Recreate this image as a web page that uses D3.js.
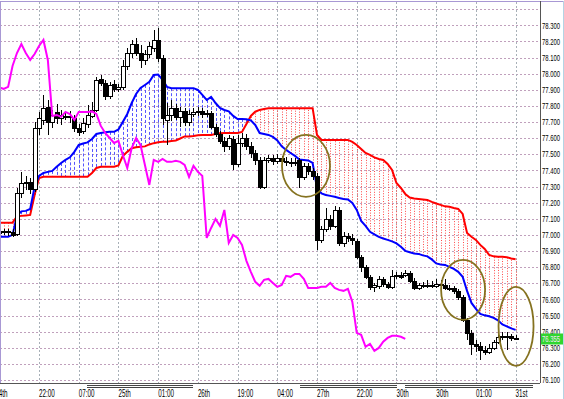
<!DOCTYPE html>
<html>
<head>
<meta charset="utf-8">
<script src="https://cdn.jsdelivr.net/npm/d3@7/dist/d3.min.js"></script>
<style>
  html, body { margin: 0; padding: 0; background: #fff; overflow: hidden; }
  text { font-family: "Liberation Sans", Arial, sans-serif; }
</style>
</head>
<body>
<svg id="chart" width="564" height="399"></svg>
<script>
// ---- data (USD/JPY hourly) ----
const opens = [
  77.012, 77.025, 77.025, 77.019, 77.006, 77.260, 77.322, 77.329, 77.285, 77.663,
  77.713, 77.794, 77.701, 77.763, 77.725, 77.738, 77.732, 77.725, 77.663, 77.645,
  77.688, 77.738, 77.775, 77.967, 77.942, 77.862, 77.936, 77.905, 77.918, 78.048,
  78.128, 78.184, 78.128, 78.085, 78.122, 78.159, 78.209, 78.097, 77.713, 77.744,
  77.787, 77.732, 77.769, 77.701, 77.750, 77.763, 77.769, 77.750, 77.756, 77.670,
  77.626, 77.583, 77.552, 77.595, 77.440, 77.570, 77.601, 77.552, 77.508, 77.465,
  77.298, 77.465, 77.477, 77.459, 77.477, 77.459, 77.453, 77.446, 77.465, 77.360,
  77.428, 77.397, 77.366, 76.969, 77.037, 77.099, 77.056, 77.155, 76.950, 76.994,
  76.981, 76.963, 76.864, 76.802, 76.740, 76.678, 76.684, 76.727, 76.696, 76.678,
  76.746, 76.752, 76.752, 76.764, 76.715, 76.671, 76.690, 76.684, 76.690, 76.684,
  76.696, 76.690, 76.671, 76.671, 76.653, 76.616, 76.473, 76.392, 76.324, 76.312,
  76.287, 76.275, 76.299, 76.337, 76.368, 76.374, 76.374, 76.361
];
const highs = [
  77.037, 77.037, 77.037, 77.037, 77.291, 77.391, 77.366, 77.353, 77.701, 77.763,
  77.868, 77.837, 77.775, 77.812, 77.775, 77.763, 77.769, 77.744, 77.688, 77.725,
  77.806, 77.825, 77.980, 77.992, 77.961, 77.949, 77.961, 77.936, 78.085, 78.159,
  78.209, 78.221, 78.178, 78.147, 78.197, 78.271, 78.283, 78.116, 77.818, 77.837,
  77.812, 77.794, 77.787, 77.775, 77.787, 77.794, 77.787, 77.775, 77.769, 77.688,
  77.645, 77.608, 77.620, 77.614, 77.620, 77.632, 77.626, 77.577, 77.527, 77.484,
  77.484, 77.496, 77.496, 77.502, 77.490, 77.484, 77.477, 77.477, 77.477, 77.446,
  77.446, 77.415, 77.384, 77.056, 77.167, 77.124, 77.180, 77.174, 77.019, 77.012,
  77.006, 76.975, 76.876, 76.814, 76.752, 76.702, 76.746, 76.740, 76.709, 76.783,
  76.771, 76.771, 76.783, 76.777, 76.733, 76.702, 76.709, 76.721, 76.715, 76.727,
  76.721, 76.727, 76.690, 76.684, 76.665, 76.628, 76.485, 76.411, 76.349, 76.337,
  76.312, 76.324, 76.349, 76.386, 76.399, 76.399, 76.386, 76.380
];
const lows = [
  76.994, 77.000, 76.994, 76.988, 76.994, 77.229, 77.279, 77.254, 77.267, 77.620,
  77.682, 77.620, 77.663, 77.688, 77.682, 77.713, 77.694, 77.639, 77.614, 77.626,
  77.663, 77.725, 77.763, 77.924, 77.837, 77.843, 77.887, 77.887, 77.899, 78.023,
  78.097, 78.110, 78.035, 78.054, 78.097, 78.135, 78.073, 77.682, 77.558, 77.707,
  77.713, 77.670, 77.676, 77.676, 77.732, 77.738, 77.725, 77.732, 77.657, 77.608,
  77.564, 77.515, 77.527, 77.403, 77.422, 77.546, 77.527, 77.477, 77.434, 77.285,
  77.285, 77.446, 77.434, 77.440, 77.434, 77.428, 77.422, 77.428, 77.291, 77.341,
  77.372, 77.341, 76.907, 76.950, 77.019, 77.031, 77.043, 76.932, 76.926, 76.957,
  76.938, 76.851, 76.771, 76.727, 76.659, 76.647, 76.665, 76.678, 76.665, 76.665,
  76.727, 76.727, 76.740, 76.702, 76.659, 76.659, 76.671, 76.671, 76.671, 76.671,
  76.678, 76.659, 76.653, 76.634, 76.597, 76.461, 76.349, 76.256, 76.275, 76.225,
  76.256, 76.262, 76.287, 76.324, 76.349, 76.287, 76.343, 76.349
];
const closes = [
  77.025, 77.019, 77.019, 77.000, 77.260, 77.322, 77.329, 77.285, 77.663, 77.725,
  77.787, 77.701, 77.744, 77.725, 77.744, 77.732, 77.738, 77.663, 77.639, 77.694,
  77.744, 77.775, 77.961, 77.942, 77.862, 77.930, 77.905, 77.918, 78.048, 78.128,
  78.184, 78.128, 78.085, 78.122, 78.172, 78.209, 78.097, 77.725, 77.744, 77.787,
  77.732, 77.769, 77.701, 77.750, 77.763, 77.769, 77.750, 77.756, 77.670, 77.626,
  77.583, 77.552, 77.601, 77.440, 77.570, 77.601, 77.552, 77.508, 77.465, 77.298,
  77.465, 77.477, 77.459, 77.477, 77.459, 77.453, 77.446, 77.453, 77.360, 77.428,
  77.397, 77.366, 76.969, 77.037, 77.099, 77.056, 77.155, 76.950, 76.994, 76.981,
  76.969, 76.864, 76.802, 76.740, 76.678, 76.690, 76.727, 76.696, 76.678, 76.746,
  76.752, 76.740, 76.764, 76.715, 76.671, 76.690, 76.684, 76.690, 76.684, 76.696,
  76.690, 76.671, 76.665, 76.653, 76.616, 76.473, 76.392, 76.324, 76.312, 76.287,
  76.275, 76.299, 76.337, 76.368, 76.374, 76.374, 76.361, 76.355
];
// lagging span (drawn from bar 0, ends 25 bars before the last candle)
const chikou = [
  77.915, 77.905, 77.918, 78.048, 78.128, 78.184, 78.128, 78.085, 78.122, 78.172,
  78.209, 78.085, 77.738, 77.744, 77.732, 77.763, 77.750, 77.713, 77.763, 77.763,
  77.763, 77.766, 77.750, 77.676, 77.632, 77.601, 77.570, 77.583, 77.496, 77.415,
  77.539, 77.601, 77.558, 77.434, 77.310, 77.465, 77.453, 77.471, 77.453, 77.453,
  77.459, 77.453, 77.434, 77.360, 77.428, 77.391, 77.366, 76.981, 77.043, 77.099,
  77.056, 77.155, 76.950, 77.000, 76.981, 76.938, 76.839, 76.771, 76.709, 76.684,
  76.721, 76.727, 76.702, 76.678, 76.690, 76.746, 76.740, 76.758, 76.758, 76.727,
  76.671, 76.671, 76.671, 76.678, 76.678, 76.702, 76.671, 76.659, 76.653, 76.665,
  76.585, 76.392, 76.380, 76.306, 76.324, 76.281, 76.299, 76.337, 76.361, 76.374,
  76.374, 76.368, 76.355
];
// cloud boundaries
const spanBlue = [
  76.988, 76.988, 76.988, 77.000, 77.118, 77.146, 77.149, 77.161, 77.298, 77.366,
  77.384, 77.391, 77.397, 77.422, 77.446, 77.465, 77.481, 77.515, 77.558, 77.567,
  77.574, 77.595, 77.626, 77.632, 77.636, 77.639, 77.639, 77.654, 77.701, 77.750,
  77.818, 77.874, 77.911, 77.930, 77.949, 77.992, 77.995, 77.961, 77.918, 77.910,
  77.910, 77.910, 77.910, 77.910, 77.910, 77.899, 77.868, 77.837, 77.856, 77.818,
  77.787, 77.775, 77.766, 77.738, 77.719, 77.719, 77.717, 77.710, 77.682, 77.632,
  77.626, 77.620, 77.608, 77.586, 77.549, 77.527, 77.508, 77.490, 77.468, 77.465,
  77.462, 77.446, 77.291, 77.257, 77.248, 77.242, 77.236, 77.229, 77.223, 77.220,
  77.198, 77.155, 77.087, 77.056, 77.019, 77.003, 76.988, 76.978, 76.969, 76.960,
  76.947, 76.926, 76.901, 76.892, 76.885, 76.882, 76.873, 76.867, 76.848, 76.823,
  76.817, 76.814, 76.802, 76.789, 76.771, 76.740, 76.653, 76.578, 76.541, 76.510,
  76.501, 76.495, 76.485, 76.470, 76.445, 76.433, 76.420, 76.411
];
const spanRed = [
  77.076, 77.076, 77.076, 77.076, 77.115, 77.118, 77.121, 77.124, 77.248, 77.353,
  77.361, 77.361, 77.361, 77.361, 77.361, 77.361, 77.361, 77.361, 77.361, 77.361,
  77.361, 77.384, 77.415, 77.423, 77.423, 77.423, 77.423, 77.431, 77.490, 77.515,
  77.538, 77.543, 77.546, 77.549, 77.561, 77.569, 77.574, 77.577, 77.578, 77.583,
  77.586, 77.598, 77.611, 77.611, 77.614, 77.618, 77.620, 77.620, 77.620, 77.626,
  77.631, 77.632, 77.632, 77.632, 77.632, 77.639, 77.688, 77.738, 77.764, 77.775,
  77.781, 77.786, 77.786, 77.786, 77.786, 77.786, 77.786, 77.786, 77.786, 77.786,
  77.786, 77.786, 77.620, 77.589, 77.589, 77.589, 77.589, 77.589, 77.589, 77.589,
  77.577, 77.558, 77.533, 77.508, 77.496, 77.481, 77.471, 77.465, 77.440, 77.403,
  77.322, 77.291, 77.254, 77.232, 77.226, 77.223, 77.220, 77.217, 77.205, 77.195,
  77.186, 77.177, 77.174, 77.167, 77.161, 77.130, 77.012, 76.988, 76.969, 76.938,
  76.913, 76.876, 76.867, 76.864, 76.864, 76.862, 76.854, 76.849
];
const timeLabels = ["24th", "22:00", "07:00", "25th", "01:00", "26th", "19:00",
  "04:00", "27th", "22:00", "30th", "30th", "01:00", "31st"];
const timeLabelBars = [0, 9, 18, 27, 36, 45, 54, 63, 72, 81, 90, 99, 108, 117];
const priceLabels = ["76.100", "76.200", "76.300", "76.400", "76.500", "76.600",
  "76.700", "76.800", "76.900", "77.000", "77.100", "77.200", "77.300", "77.400",
  "77.500", "77.600", "77.700", "77.800", "77.900", "78.000", "78.100", "78.200", "78.300"];
const lastPrice = "76.355";
// circled areas: [bar, price, rx px, ry px]
const marks = [[69.5, 77.428, 24, 31], [105.1, 76.659, 22, 30], [117.1, 76.433, 17.5, 39.5]];

// ---- layout ----
const plotRight = 540, plotBottom = 383;
const svg = d3.select('#chart');
svg.append('rect').attr('width', 564).attr('height', 399).attr('fill', '#fff');

const x = d3.scaleLinear().domain([0, 117]).range([-0.7, 515.6]);
const y = d3.scaleLinear().domain([76.1, 78.3]).range([380, 25.3]);

svg.append('clipPath').attr('id', 'plot')
  .append('rect').attr('x', 0).attr('y', 2).attr('width', plotRight).attr('height', plotBottom - 2);

const plot = svg.append('g').attr('clip-path', 'url(#plot)');

// grid
const gridPrices = priceLabels.map(Number).concat([78.4]);
plot.append('g').selectAll('line').data(gridPrices).join('line')
  .attr('x1', 0).attr('x2', plotRight)
  .attr('y1', d => Math.round(y(d)) + 0.5).attr('y2', d => Math.round(y(d)) + 0.5)
  .attr('stroke', '#c0a0bc').attr('stroke-dasharray', '2,2');
plot.append('g').selectAll('line').data(timeLabelBars).join('line')
  .attr('x1', d => Math.round(x(d)) + 0.5).attr('x2', d => Math.round(x(d)) + 0.5)
  .attr('y1', 2).attr('y2', plotBottom)
  .attr('stroke', '#a8b0b8').attr('stroke-dasharray', '2,2');

// cloud hatching
plot.append('g').selectAll('line').data(spanBlue).join('line')
  .attr('x1', (d, i) => Math.round(x(i)) + 0.5).attr('x2', (d, i) => Math.round(x(i)) + 0.5)
  .attr('y1', d => y(d)).attr('y2', (d, i) => y(spanRed[i]))
  .attr('stroke', (d, i) => d >= spanRed[i] ? '#5656ff' : '#ff4a4a')
  .attr('stroke-dasharray', (d, i) => d >= spanRed[i] ? '3,2' : '1,1.6');

const line = d3.line().x((d, i) => x(i)).y(d => y(d));
plot.append('path').datum(spanRed).attr('d', line)
  .attr('fill', 'none').attr('stroke', '#ff0000').attr('stroke-width', 2);
plot.append('path').datum(spanBlue).attr('d', line)
  .attr('fill', 'none').attr('stroke', '#0000ff').attr('stroke-width', 2);

// candles
const candles = plot.append('g').attr('shape-rendering', 'crispEdges');
candles.selectAll('line').data(closes).join('line')
  .attr('x1', (d, i) => Math.round(x(i)) + 0.5).attr('x2', (d, i) => Math.round(x(i)) + 0.5)
  .attr('y1', (d, i) => y(highs[i])).attr('y2', (d, i) => y(lows[i]))
  .attr('stroke', '#000');
candles.selectAll('rect').data(closes).join('rect')
  .attr('x', (d, i) => Math.round(x(i)) - 1.5)
  .attr('y', (d, i) => Math.round(y(Math.max(d, opens[i]))) + 0.5)
  .attr('width', 4)
  .attr('height', (d, i) => Math.max(1, Math.round(Math.abs(y(d) - y(opens[i])))))
  .attr('fill', (d, i) => d >= opens[i] ? '#fff' : '#000')
  .attr('stroke', '#000');

// lagging span
plot.append('path').datum(chikou).attr('d', line)
  .attr('fill', 'none').attr('stroke', '#ff00ff').attr('stroke-width', 2);

// circled areas
plot.append('g').selectAll('ellipse').data(marks).join('ellipse')
  .attr('cx', d => x(d[0])).attr('cy', d => y(d[1]))
  .attr('rx', d => d[2]).attr('ry', d => d[3])
  .attr('fill', 'none').attr('stroke', '#857220').attr('stroke-width', 1.8);

// frame
const frame = svg.append('g').attr('shape-rendering', 'crispEdges');
frame.append('line').attr('x1', 0).attr('x2', 564).attr('y1', 1.5).attr('y2', 1.5).attr('stroke', '#a898d4');
frame.append('line').attr('x1', 0.5).attr('x2', 0.5).attr('y1', 1).attr('y2', plotBottom).attr('stroke', '#a898d4');
frame.append('line').attr('x1', 563.5).attr('x2', 563.5).attr('y1', 1).attr('y2', 399).attr('stroke', '#b4d4e4');
frame.append('line').attr('x1', plotRight + 0.5).attr('x2', plotRight + 0.5).attr('y1', 1).attr('y2', plotBottom).attr('stroke', '#555');
frame.append('line').attr('x1', 0).attr('x2', plotRight).attr('y1', plotBottom + 0.5).attr('y2', plotBottom + 0.5).attr('stroke', '#555');
[[87, 193], [300, 397], [405, 533]].forEach(([a, b]) => {
  [385.5, 387.5].forEach(yy => frame.append('line').attr('x1', a).attr('x2', b)
    .attr('y1', yy).attr('y2', yy).attr('stroke', '#444'));
});

// narrow bitmap-font look: scale text horizontally
function narrowText(parent, px, py, str, size, fill, k) {
  return parent.append('text')
    .attr('transform', `translate(${px},${py}) scale(${k},1)`)
    .attr('font-size', size).attr('fill', fill).text(str);
}

// price axis
const axisG = svg.append('g');
priceLabels.forEach(d => narrowText(axisG, 542, y(+d) + 3.2, d, 9.5, '#000', 0.62));

const ly = y(+lastPrice);
svg.append('rect').attr('x', 541).attr('y', Math.round(ly) - 5.5).attr('width', 22).attr('height', 11)
  .attr('fill', '#2fd62f');
narrowText(svg, 542, ly + 3.2, lastPrice, 9.5, '#f6e6f6', 0.62);

// time axis
const timeG = svg.append('g');
timeLabels.forEach((d, i) => {
  const tx = i === 0 ? x(timeLabelBars[i]) - 4 : x(timeLabelBars[i]);
  narrowText(timeG, tx, 396.5, d, 10, '#000', 0.63);
});
</script>
</body>
</html>
